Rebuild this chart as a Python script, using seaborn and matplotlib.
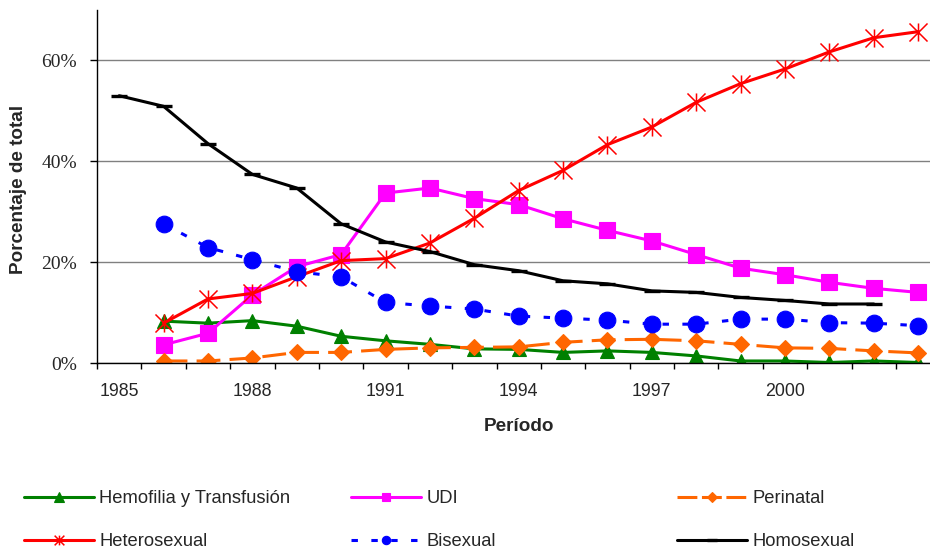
import numpy as np
import pandas as pd
import matplotlib
matplotlib.use("Agg")
import matplotlib.pyplot as plt
import seaborn as sns
from matplotlib.path import Path
from matplotlib.lines import Line2D
from matplotlib.ticker import FixedLocator, FuncFormatter

# ---------------- data (percent of total) ----------------
years = list(range(1985, 2004))
nan = np.nan
hemofilia = [nan, 8.3, 7.9, 8.4, 7.3, 5.3, 4.4, 3.7, 2.8, 2.7, 2.1, 2.4, 2.1, 1.4, 0.4, 0.4, 0.1, 0.4, 0.1]
udi = [nan, 3.6, 5.9, 13.5, 19.1, 21.5, 33.7, 34.7, 32.6, 31.4, 28.6, 26.3, 24.2, 21.5, 18.8, 17.5, 16.0, 14.8, 14.0]
perinatal = [nan, 0.4, 0.4, 1.0, 2.1, 2.1, 2.7, 3.0, 3.1, 3.2, 4.1, 4.6, 4.7, 4.4, 3.7, 3.0, 2.9, 2.4, 2.0]
heterosexual = [nan, 7.9, 12.7, 13.8, 17.1, 20.3, 20.7, 23.8, 28.7, 34.2, 38.2, 43.3, 46.8, 51.7, 55.4, 58.3, 61.7, 64.5, 65.7]
bisexual = [nan, 27.6, 22.9, 20.5, 18.1, 17.1, 12.0, 11.3, 10.7, 9.3, 8.9, 8.5, 7.7, 7.7, 8.7, 8.7, 8.0, 7.9, 7.4]
homosexual = [53.0, 50.9, 43.5, 37.4, 34.7, 27.6, 24.0, 22.1, 19.5, 18.3, 16.3, 15.7, 14.3, 14.0, 13.0, 12.4, 11.7, 11.7, nan]

labels = ["Hemofilia y Transfusión", "UDI", "Perinatal",
          "Heterosexual", "Bisexual", "Homosexual"]
xtick_years = [1985, 1988, 1991, 1994, 1997, 2000]
yticks = [0, 20, 40, 60]

# ---------------- style ----------------
sns.set_style("white")
plt.rcParams["font.family"] = ["Liberation Sans", "DejaVu Sans"]

fig = plt.figure(figsize=(9.3, 5.52), dpi=100)
W, H = 930, 552
ax = fig.add_axes([97 / W, 1 - 363 / H, (930 - 97) / W, (363 - 10) / H])

# asterisk marker (vertical bar + X)
star = Path([(0, -1), (0, 1), (-1, -1), (1, 1), (-1, 1), (1, -1)],
            [Path.MOVETO, Path.LINETO, Path.MOVETO, Path.LINETO, Path.MOVETO, Path.LINETO])

LW = 2.2
series = [
    dict(vals=hemofilia, color="#008000", marker="^", ms=10.5, ls="-", mew=0.8, mfc="#008000", lms=7),
    dict(vals=udi, color="#FF00FF", marker="s", ms=11.5, ls="-", mew=0.8, mfc="#FF00FF", lms=5.5),
    dict(vals=perinatal, color="#FF6600", marker="D", ms=8, ls=(0, (7.8, 3.0)), mew=0.8, mfc="#FF6600", lms=4.8),
    dict(vals=heterosexual, color="#FF0000", marker=star, ms=13, ls="-", mew=1.1, mfc="none", lms=7),
    dict(vals=bisexual, color="#0000FF", marker="o", ms=12, ls=(0, (2.1, 4.4)), mew=0.8, mfc="#0000FF", lms=6),
    dict(vals=homosexual, color="#000000", marker="_", ms=12, ls="-", mew=2.4, mfc="#000000", lms=7),
]
legend_ls = ["-", "-", (0, (6.5, 1.5)), "-", (0, (2.1, 4.4)), "-"]

for s in series:
    df = pd.DataFrame({"Periodo": years, "Valor": s["vals"]}).dropna()
    sns.lineplot(data=df, x="Periodo", y="Valor", ax=ax, color=s["color"],
                 marker=s["marker"], markersize=s["ms"], linestyle=s["ls"],
                 linewidth=LW, markeredgecolor=s["color"], markeredgewidth=s["mew"],
                 markerfacecolor=s["mfc"], estimator=None, errorbar=None,
                 legend=False)

# ---------------- axes ----------------
ax.set_xlim(1984.5, 1985 + (930 - 119) / 44.4)
ax.set_ylim(0, 70)
for side in ["top", "right"]:
    ax.spines[side].set_visible(False)
for side in ["left", "bottom"]:
    ax.spines[side].set_color("black")
    ax.spines[side].set_linewidth(1.0)

ax.yaxis.grid(True, color="#808080", lw=1.0)
ax.xaxis.grid(False)
ax.set_axisbelow(True)

ax.xaxis.set_major_locator(FixedLocator(xtick_years))
ax.xaxis.set_minor_locator(FixedLocator(np.arange(1984.5, 2004, 1.0)))
ax.set_xticklabels([str(y) for y in xtick_years])
ax.tick_params(axis="x", which="major", length=0, pad=14.5, labelsize=12.8, bottom=True)
ax.tick_params(axis="x", which="minor", length=4.3, width=1, color="black",
               direction="out", bottom=True)

ax.yaxis.set_major_locator(FixedLocator(yticks))
ax.yaxis.set_major_formatter(FuncFormatter(lambda v, p: f"{v:.0f}%"))
ax.tick_params(axis="y", which="major", length=5, width=1, color="black",
               direction="out", pad=9.4, left=True, labelsize=14)
for t in ax.get_yticklabels():
    t.set_fontfamily(["Liberation Serif", "DejaVu Serif"])

ax.set_xlabel("Período", fontsize=13.6, fontweight="bold")
ax.set_ylabel("Porcentaje de total", fontsize=13.6, fontweight="bold")
ax.xaxis.set_label_coords(0.507, (363 - 418) / 353)
ax.xaxis.label.set_va("top")
ax.yaxis.set_label_coords((27 - 97) / 833, (363 - 189) / 353)

# ---------------- legend (3 column groups) ----------------
handles = []
for s, lls in zip(series, legend_ls):
    handles.append(Line2D([], [], color=s["color"], lw=LW, linestyle=lls,
                          marker=s["marker"], markersize=s["lms"],
                          markeredgecolor=s["color"], markeredgewidth=s["mew"],
                          markerfacecolor=s["mfc"]))

col_x = [24, 351, 677]
for i, cx in enumerate(col_x):
    hs = [handles[i], handles[i + 3]]
    ls_ = [labels[i], labels[i + 3]]
    fig.legend(hs, ls_, loc="center left", bbox_to_anchor=(cx / W, 1 - 520 / H),
               frameon=False, fontsize=13.2, handlelength=3.8, handletextpad=0.3,
               borderpad=0, borderaxespad=0, labelspacing=1.42)

fig.savefig("out.png", dpi=100)
